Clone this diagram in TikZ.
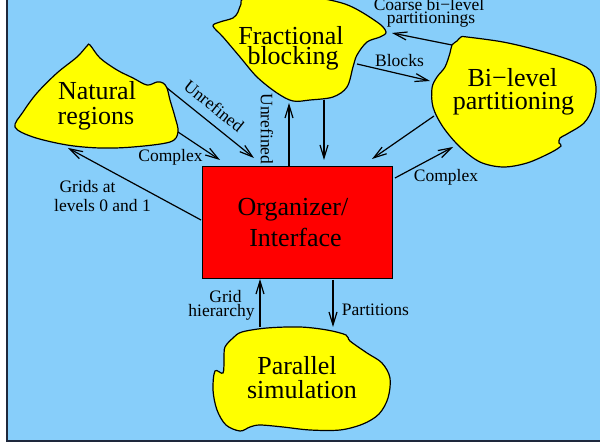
\documentclass[tikz,border=0pt]{standalone}
\usepackage{fontspec}
\setmainfont{Liberation Serif}
\usetikzlibrary{arrows.meta}
\definecolor{bgblue}{RGB}{135,206,250}
\definecolor{blobyellow}{RGB}{255,255,0}
\definecolor{boxred}{RGB}{255,0,0}
\definecolor{frame}{RGB}{30,40,60}
\tikzset{
  blob/.style={fill=blobyellow, draw=black, line width=1.2pt},
  arr/.style={-{Straight Barb[length=13pt,width=8pt,line width=1.2pt]}, line width=1.2pt},
  big/.style={font=\fontsize{26}{26}\selectfont, inner sep=0pt, anchor=base},
  small/.style={font=\fontsize{17.5}{17.5}\selectfont, inner sep=0pt, anchor=base},
}
\begin{document}
\begin{tikzpicture}[x=1pt,y=-1pt]
\useasboundingbox (0,0) rectangle (600,446);
% background panel
\fill[bgblue] (7,-10) rectangle (610,441);
\draw[frame, line width=1.5pt] (7,-10) -- (7,441) -- (610,441);

% blobs
\draw[blob] plot[smooth cycle, tension=0.55] coordinates {
  (15,127) (23,112) (37,93) (57,73) (77,57) (87,46) (90,45) (100,58) (117,70)
  (133,78) (147,85) (157,82) (163,83) (167,88) (170,100) (175,117) (178,132)
  (170,142) (133,147) (100,148) (67,145) (33,137)};
\draw[blob] plot[smooth cycle, tension=0.55] coordinates {
  (213,26) (220,22) (233,18) (238,12) (241,4) (247,-2) (300,-4) (345,4) (377,22)
  (386,32) (380,37) (367,42) (357,55) (353,67) (347,87) (333,97) (310,100)
  (293,101) (277,93) (257,77) (240,57) (223,37)};
\draw[blob] plot[smooth cycle, tension=0.55] coordinates {
  (452,45) (457,41) (461,37) (467,37) (503,42) (537,50) (570,60) (590,70)
  (596,87) (593,107) (584,123) (567,134) (560,138) (559,143) (561,146)
  (550,153) (527,163) (503,167) (480,162) (460,147) (443,127) (433,107)
  (432,88) (437,77) (445,67) (450,53)};
\draw[blob] plot[smooth cycle, tension=0.55] coordinates {
  (225,347) (233,338) (242,332) (267,328) (300,327) (327,330) (346,335)
  (350,341) (367,353) (382,363) (390,378) (388,398) (379,414) (363,424)
  (340,430) (310,430) (283,427) (260,425) (250,427) (240,431) (226,425)
  (217,410) (213,390) (215,371) (223,373) (224,358)};

% central box
\node[draw=black, fill=boxred, line width=1.2pt, minimum width=190pt, minimum height=112pt,
      anchor=north west, inner sep=0pt] (box) at (202,166) {};

% big labels
\node[big] (nr1) at (97,100) {Natural};
\node[big] (nr2) at (96,125) {regions};
\node[big] (fb1) at (291,45) {Fractional};
\node[big] (fb2) at (293,65) {blocking};
\node[big] (bl1) at (512.5,87) {Bi−level};
\node[big] (bl2) at (513.5,110) {partitioning};
\node[big] (ps1) at (297,375) {Parallel};
\node[big] (ps2) at (302,399) {simulation};
\node[big] (oi1) at (293,216) {Organizer/};
\node[big] (oi2) at (295.5,247) {Interface};

% connector end points
\coordinate (a1s) at (167,88);   \coordinate (a1e) at (254,158);
\coordinate (a2s) at (178,132);  \coordinate (a2e) at (220,160);
\coordinate (a3s) at (201,220);  \coordinate (a3e) at (68,148);
\coordinate (a4s) at (289,166);  \coordinate (a4e) at (289,103);
\coordinate (a5s) at (324,100);  \coordinate (a5e) at (324,160);
\coordinate (a6s) at (357,64);   \coordinate (a6e) at (430,81);
\coordinate (a7s) at (452,45);   \coordinate (a7e) at (392,33);
\coordinate (a8s) at (434,116);  \coordinate (a8e) at (372,159);
\coordinate (a9s) at (395,178);  \coordinate (a9e) at (453,147);
\coordinate (a10s) at (260,327); \coordinate (a10e) at (260,279);
\coordinate (a11s) at (333,280); \coordinate (a11e) at (333,327);

\draw[arr] (a1s) -- (a1e);
\draw[arr] (a2s) -- (a2e);
\draw[arr] (a3s) -- (a3e);
\draw[arr] (a4s) -- (a4e);
\draw[arr] (a5s) -- (a5e);
\draw[arr] (a6s) -- (a6e);
\draw[arr] (a7s) -- (a7e);
\draw[arr] (a8s) -- (a8e);
\draw[arr] (a9s) -- (a9e);
\draw[arr] (a10s) -- (a10e);
\draw[arr] (a11s) -- (a11e);

% small labels
\node[small, anchor=center, rotate=-38.7] (lu1) at (214,106) {Unrefined};
\node[small, anchor=center, rotate=-90] (lu2) at (267,129) {Unrefined};
\node[small] (lc1) at (170.5,162) {Complex};
\node[small] (lc2) at (446,182) {Complex};
\node[small] (lg1) at (87.5,193) {Grids at};
\node[small] (lg2) at (102.5,212) {levels 0 and 1};
\node[small] (lb) at (399.5,67) {Blocks};
\node[small] (lcb1) at (429,11) {Coarse bi−level};
\node[small] (lcb2) at (431,24) {partitionings};
\node[small] (lh1) at (225.5,303) {Grid};
\node[small] (lh2) at (221.5,317) {hierarchy};
\node[small] (lp) at (375.5,316) {Partitions};
\end{tikzpicture}
\end{document}
